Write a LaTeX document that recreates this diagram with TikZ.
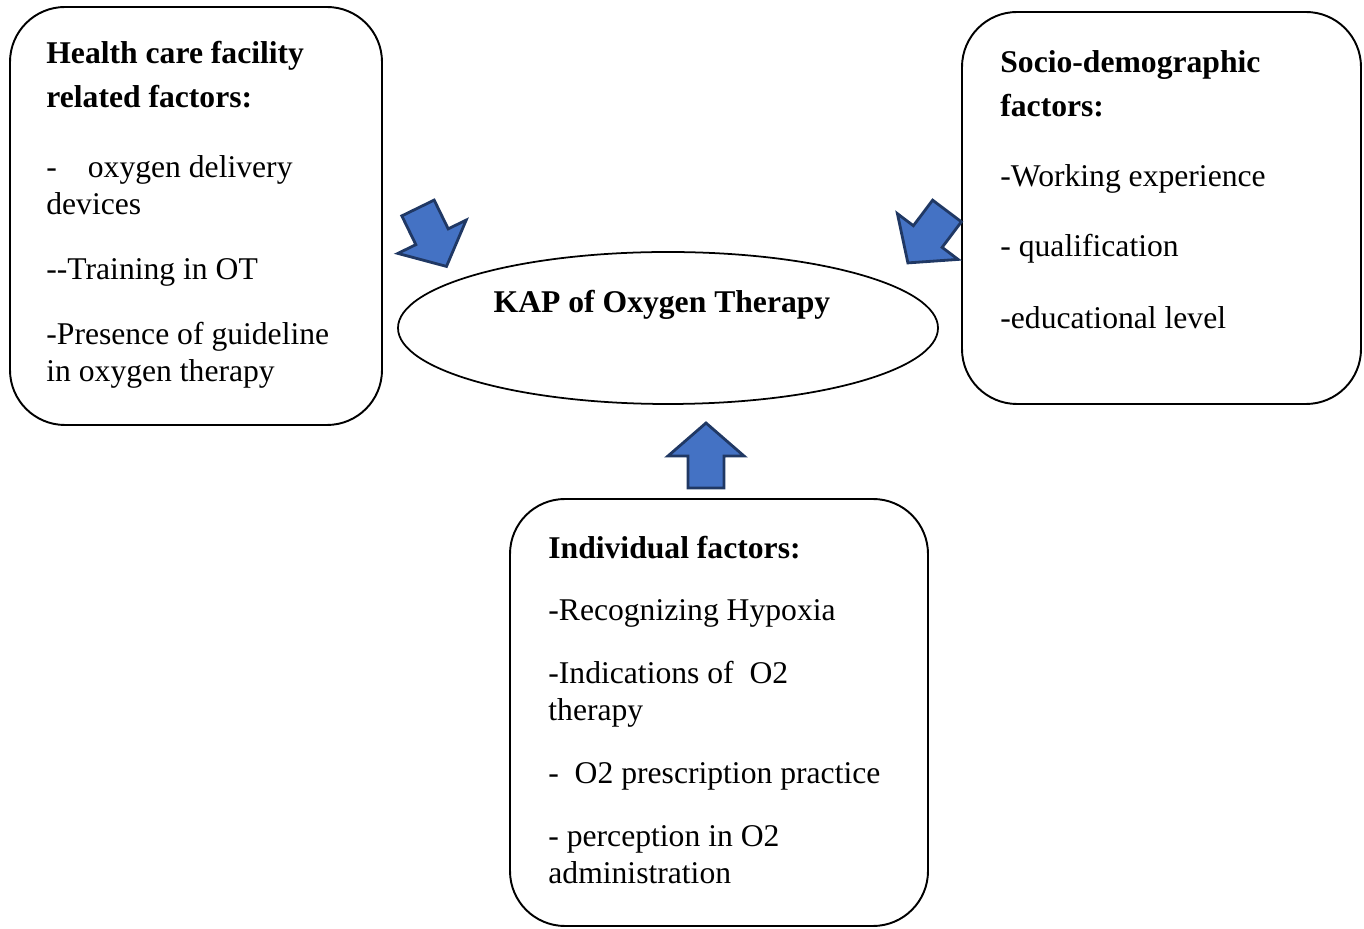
\documentclass[tikz,border=0pt]{standalone}
\usepackage{fontspec}
\setmainfont{Liberation Serif}
\usetikzlibrary{positioning,shapes.geometric}
\definecolor{arrowfill}{HTML}{4472C4}
\definecolor{arrowline}{HTML}{203864}

\tikzset{
  blockarrow/.pic={
    \filldraw[arrowfill,draw=arrowline,line width=1.6pt,line join=miter]
      (0,-0.36) -- (0.64,-0.36) -- (0.64,-0.76) -- (1.3,0) -- (0.64,0.76)
      -- (0.64,0.36) -- (0,0.36) -- cycle;
  }
}

\begin{document}
\begin{tikzpicture}[
  factorbox/.style={draw,line width=1.1pt,rounded corners=1.1cm,inner sep=0pt},
  factortext/.style={align=left,inner sep=0pt,font=\fontsize{18}{21}\selectfont}
]
  \useasboundingbox (0,0) rectangle (27.28,18.56);

  % factor boxes
  \node[factorbox,minimum width=7.44cm,minimum height=8.36cm] (health) at (3.92,14.24) {};
  \node[factorbox,minimum width=7.98cm,minimum height=7.84cm] (socio) at (23.23,14.40) {};
  \node[factorbox,minimum width=8.36cm,minimum height=8.54cm] (indiv) at (14.38,4.31) {};

  \node[factortext,below right=0.7cm and 0.74cm of health.north west] (healthtext)
    {\textbf{Health care facility}\\[4pt]
     \textbf{related factors:}\\[19pt]
     -\hspace{0.98em}oxygen delivery\\
     devices\\[16pt]
     -{}-Training in OT\\[16pt]
     -Presence of guideline\\
     in oxygen therapy};

  \node[factortext,below right=0.78cm and 0.78cm of socio.north west] (sociotext)
    {\textbf{Socio-demographic}\\[4pt]
     \textbf{factors:}\\[19pt]
     -Working experience\\[19pt]
     - qualification\\[20pt]
     -educational level};

  \node[factortext,below right=0.76cm and 0.78cm of indiv.north west] (indivtext)
    {\textbf{Individual factors:}\\[14pt]
     -Recognizing Hypoxia\\[15pt]
     -Indications of\ \ O2\\
     therapy\\[15pt]
     -\ \ O2 prescription practice\\[15pt]
     - perception in O2\\
     administration};

  % centre
  \node[draw,ellipse,line width=1pt,minimum width=10.8cm,minimum height=3.04cm] (kap) at (13.36,12.0) {};
  \node[anchor=base,inner sep=0pt,font=\fontsize{18}{21}\selectfont\bfseries] (kaptext)
    at ([xshift=-0.12cm,yshift=0.3cm]kap.center) {KAP of Oxygen Therapy};

  % block arrows
  \pic[rotate=-64] at (8.36,14.40) {blockarrow};
  \pic[rotate=-127] at (18.94,14.34) {blockarrow};
  \pic[rotate=90] at (14.12,8.80) {blockarrow};
\end{tikzpicture}
\end{document}
